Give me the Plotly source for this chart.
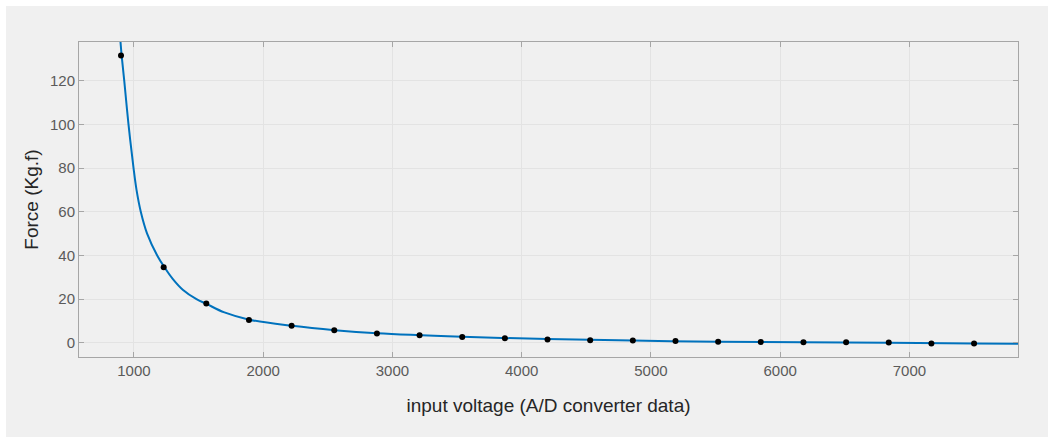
import plotly.graph_objects as go

# measured data points
volt = [900, 1230, 1560, 1890, 2220, 2550, 2880, 3210, 3540, 3870, 4200,
        4530, 4860, 5190, 5520, 5850, 6180, 6510, 6840, 7170, 7500]
force = [131.5, 34.6, 18.0, 10.4, 7.8, 5.8, 4.3, 3.5, 2.6, 2.1, 1.5,
         1.2, 1.1, 0.8, 0.5, 0.4, 0.3, 0.2, 0.1, -0.3, -0.3]

# fitted curve
fit_x = [893, 905, 925, 958, 997, 1020, 1053, 1102, 1180, 1234, 1300, 1380,
         1484, 1562, 1700, 1892, 2224, 2554, 2880, 3540, 4200, 4860, 5520,
         6180, 6840, 7500, 7840]
fit_y = [140, 131.5, 120, 100, 80, 70, 60, 50, 40, 34.8, 29.3, 24.2,
         20, 17.8, 13.9, 10.6, 7.8, 5.8, 4.4, 2.8, 1.7, 1.0, 0.5,
         0.2, 0.0, -0.3, -0.4]

x_ticks = [1000, 2000, 3000, 4000, 5000, 6000, 7000]
y_ticks = [0, 20, 40, 60, 80, 100, 120]

fig = go.Figure()
fig.add_trace(go.Scatter(x=fit_x, y=fit_y, mode="lines",
                         line=dict(color="#0072BD", width=2, shape="spline", smoothing=1.0),
                         showlegend=False, hoverinfo="skip"))
fig.add_trace(go.Scatter(x=volt, y=force, mode="markers",
                         marker=dict(color="black", size=6),
                         showlegend=False))

L, R, T, B = 79, 1018, 42, 357
W, H = 1057, 439
pw, ph = R - L, B - T

fig.add_shape(type="rect", xref="paper", yref="paper", layer="below",
              x0=(6 - L) / pw, x1=(1048 - L) / pw,
              y0=(B - 437) / ph, y1=(B - 6) / ph,
              fillcolor="#f0f0f0", line=dict(width=0))

axis_common = dict(
    showline=True, linecolor="#a6a6a6", linewidth=1, mirror="ticks",
    ticks="inside", ticklen=5, tickcolor="#a6a6a6",
    showgrid=True, gridcolor="#e3e3e3", gridwidth=1,
    zeroline=False,
    tickfont=dict(family="Arial, Liberation Sans", size=15, color="#5a5a5a"),
)

fig.update_xaxes(range=[575, 7840], tickvals=x_ticks,
                 title=dict(text="input voltage (A/D converter data)",
                            font=dict(family="Arial, Liberation Sans", size=19, color="#262626"),
                            standoff=20),
                 **axis_common)
fig.update_yaxes(range=[-6.5, 137.7], tickvals=y_ticks,
                 title=dict(text="Force (Kg.f)",
                            font=dict(family="Arial, Liberation Sans", size=19, color="#262626"),
                            standoff=6),
                 **axis_common)

fig.update_layout(
    width=W, height=H,
    margin=dict(l=L, r=W - R, t=T, b=H - B),
    paper_bgcolor="white", plot_bgcolor="white",
)

fig.write_html("out.html")
